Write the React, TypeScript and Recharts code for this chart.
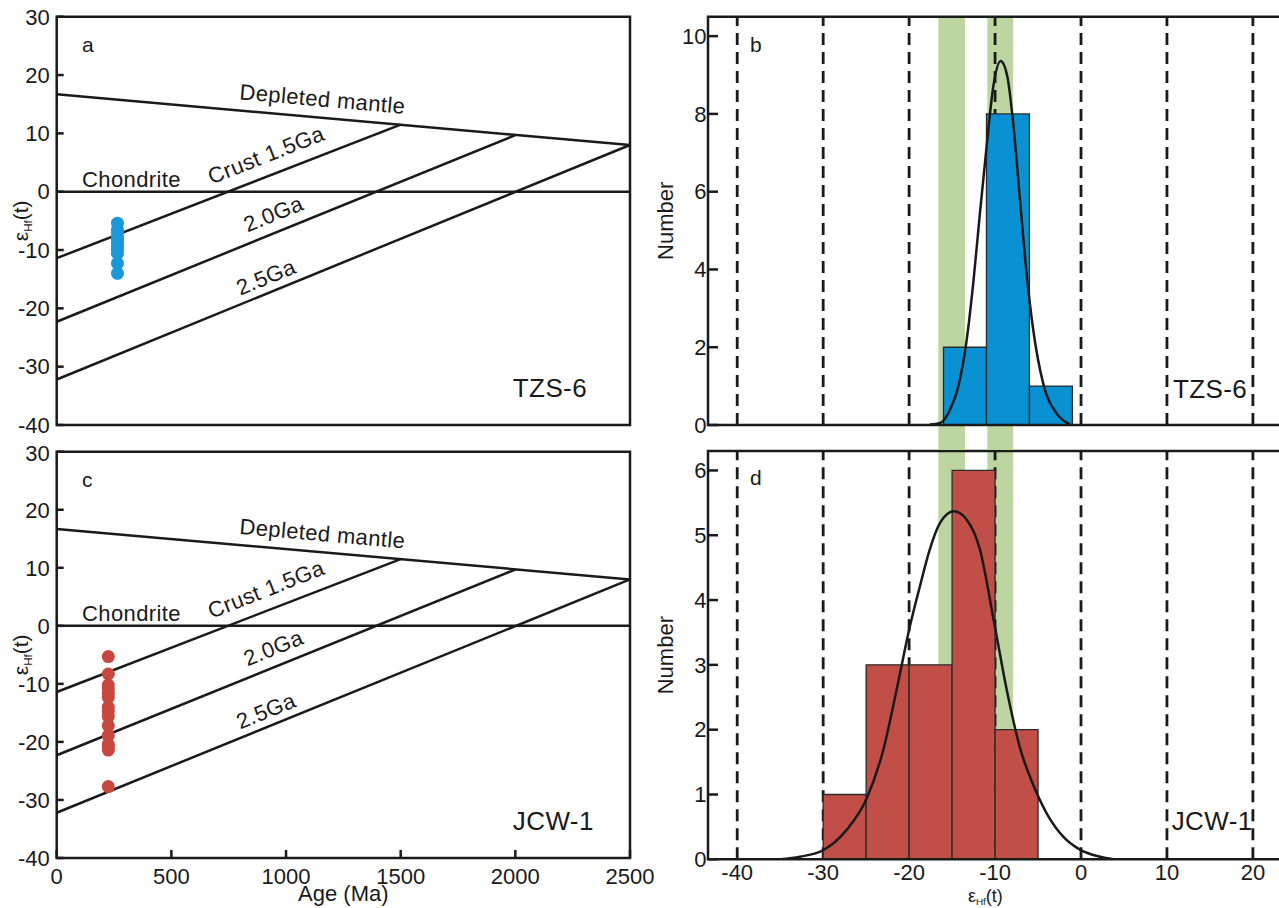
import React from 'react';
import { ComposedChart, Line, Scatter, XAxis, YAxis, ReferenceArea, ReferenceLine, ReferenceDot } from 'recharts';

const FONT = '"Liberation Sans", Arial, Helvetica, sans-serif';
const INK = '#1a1a1a';

// Hf evolution lines (age in Ma, εHf)
const depletedMantle = [{ x: 0, y: 16.7 }, { x: 2500, y: 8.0 }];
const chondrite = [{ x: 0, y: 0 }, { x: 2500, y: 0 }];
const crust15 = [{ x: 0, y: -11.4 }, { x: 1500, y: 11.5 }];
const crust20 = [{ x: 0, y: -22.3 }, { x: 2000, y: 9.7 }];
const crust25 = [{ x: 0, y: -32.2 }, { x: 2500, y: 8.0 }];

const ageTicks = [0, 500, 1000, 1500, 2000, 2500];
const hfTicks = [-40, -30, -20, -10, 0, 10, 20, 30];

// zircon analyses
const tzsAge = 265;
const tzsHf = [-5.4, -6.6, -7.0, -7.8, -8.3, -8.9, -9.4, -10.0, -10.6, -12.3, -14.0];
const jcwAge = 225;
const jcwHf = [-5.3, -8.3, -10.2, -10.9, -11.6, -12.3, -14.0, -14.7, -15.6, -17.2, -18.9, -20.4, -20.9, -21.4, -27.7];

// histograms (bin edges + counts)
const tzsEdges = [-16, -11, -6, -1];
const tzsCounts = [2, 8, 1];
const jcwEdges = [-30, -25, -20, -15, -10, -5];
const jcwCounts = [1, 3, 3, 6, 2];

// fitted curves
const tzsCurve = [
  { x: -17.6, y: 0.01 }, { x: -16.4, y: 0.05 }, { x: -15.25, y: 0.39 }, { x: -14.1, y: 1.16 },
  { x: -13.3, y: 2.19 }, { x: -12.5, y: 3.73 }, { x: -11.76, y: 5.45 }, { x: -10.98, y: 7.17 },
  { x: -10.2, y: 8.71 }, { x: -9.35, y: 9.36 }, { x: -8.58, y: 8.97 }, { x: -7.89, y: 7.77 },
  { x: -7.1, y: 5.79 }, { x: -6.33, y: 3.9 }, { x: -5.56, y: 2.45 }, { x: -4.4, y: 1.07 },
  { x: -2.84, y: 0.3 }, { x: -1.3, y: 0.02 },
];
const jcwCurve = [
  { x: -35, y: 0 }, { x: -32.7, y: 0.04 }, { x: -30, y: 0.14 }, { x: -27.3, y: 0.45 },
  { x: -24.9, y: 0.95 }, { x: -23, y: 1.69 }, { x: -21.45, y: 2.62 }, { x: -19.9, y: 3.6 },
  { x: -18.75, y: 4.21 }, { x: -17.6, y: 4.78 }, { x: -16.4, y: 5.19 }, { x: -14.8, y: 5.37 },
  { x: -13.3, y: 5.24 }, { x: -11.76, y: 4.78 }, { x: -10.2, y: 3.72 }, { x: -8.65, y: 2.62 },
  { x: -7.1, y: 1.72 }, { x: -5.56, y: 1.15 }, { x: -4, y: 0.71 }, { x: -2.07, y: 0.35 },
  { x: -0.13, y: 0.15 }, { x: 2.2, y: 0.04 }, { x: 3.75, y: 0 },
];

const greenBands = [[-16.6, -13.5], [-10.9, -7.9]];
const dashTicks = [-40, -30, -20, -10, 0, 10, 20];
const tzsCountTicks = [0, 2, 4, 6, 8, 10];
const jcwCountTicks = [0, 1, 2, 3, 4, 5, 6];

const tickFont = { fontSize: 22, fill: INK, fontFamily: FONT };

function EpsText({ x, y, size, rotate, sub = 0.2 }: { x: number; y: number; size: number; rotate?: boolean; sub?: number }) {
  return (
    <text
      transform={`translate(${x},${y})${rotate ? ' rotate(-90)' : ''}`}
      textAnchor="middle"
      fontFamily={FONT}
      fontSize={size}
      fill={INK}
    >
      <tspan>ε</tspan>
      <tspan fontSize={size * 0.55} dy={size * sub}>Hf</tspan>
      <tspan dy={-size * sub}>(t)</tspan>
    </text>
  );
}

// text anchored at a data point
function note(key: string, x: number, y: number, text: string, size = 22, angle = 0, anchor = 'start') {
  return (
    <ReferenceDot
      key={key}
      x={x}
      y={y}
      r={0}
      fill="none"
      stroke="none"
      ifOverflow="visible"
      label={{
        content: (p: any) => (
          <text
            transform={`translate(${p.viewBox.x},${p.viewBox.y}) rotate(${angle})`}
            textAnchor={anchor}
            fontFamily={FONT}
            fontSize={size}
            fill={INK}
            letterSpacing={0.4}
          >
            {text}
          </text>
        ),
      }}
    />
  );
}

function EvolutionPanel({ letter, sample, age, hf, color, bottom }: {
  letter: string; sample: string; age: number; hf: number[]; color: string; bottom?: boolean;
}) {
  const points = hf.map((y) => ({ x: age, y }));
  const lines = [depletedMantle, chondrite, crust15, crust20, crust25];
  return (
    <ComposedChart
      width={680}
      height={bottom ? 468 : 440}
      margin={{ top: bottom ? 11.7 : 16.7, right: 50, bottom: 0, left: 0 }}
    >
      <XAxis
        type="number"
        dataKey="x"
        domain={[0, 2500]}
        ticks={ageTicks}
        axisLine={false}
        tickLine={{ stroke: INK, strokeWidth: 2.5 }}
        tickSize={-8}
        tickMargin={18}
        tick={bottom ? tickFont : false}
        height={bottom ? 50 : 15}
        label={bottom ? {
          content: (p: any) => (
            <text x={p.viewBox.x + p.viewBox.width / 2} y={p.viewBox.y + 43} textAnchor="middle"
              fontFamily={FONT} fontSize={22} fill={INK}>Age (Ma)</text>
          ),
        } : undefined}
      />
      <YAxis
        type="number"
        dataKey="y"
        domain={[-40, 30]}
        ticks={hfTicks}
        width={56.7}
        axisLine={false}
        tickLine={{ stroke: INK, strokeWidth: 2.5 }}
        tickSize={-7}
        tickMargin={14}
        tick={tickFont}
        label={{
          content: (p: any) => (
            <EpsText x={p.viewBox.x + 28} y={p.viewBox.y + p.viewBox.height / 2} size={21} rotate />
          ),
        }}
      />
      {lines.map((d, i) => (
        <Line key={'l' + i} data={d} dataKey="y" type="linear" stroke={INK} strokeWidth={2.5}
          dot={false} isAnimationActive={false} />
      ))}
      <Scatter
        data={points}
        fill={color}
        isAnimationActive={false}
        shape={(p: any) => <circle cx={p.cx} cy={p.cy} r={6.5} fill={color} />}
      />
      <ReferenceArea x1={0} x2={2500} y1={-40} y2={30} fill="none" stroke={INK} strokeWidth={2.5} ifOverflow="visible" />
      {note('letter', 110, 23.9, letter, 21)}
      {note('chon', 326, 0.8, 'Chondrite', 22, 0, 'middle')}
      {note('dm', 1156, 14.6, 'Depleted mantle', 22, 5.1, 'middle')}
      {note('c15', 925, 5.1, 'Crust 1.5Ga', 22, -21.5, 'middle')}
      {note('c20', 957, -5.0, '2.0Ga', 22, -22.2, 'middle')}
      {note('c25', 925, -15.85, '2.5Ga', 22, -22.2, 'middle')}
      {note('sample', 1989, -35.2, sample, 26)}
    </ComposedChart>
  );
}

function HistPanel({ letter, sample, edges, counts, curve, color, yMax, yTicks, bottom }: {
  letter: string; sample: string; edges: number[]; counts: number[]; curve: { x: number; y: number }[];
  color: string; yMax: number; yTicks: number[]; bottom?: boolean;
}) {
  return (
    <ComposedChart
      width={680}
      height={bottom ? 468 : 452}
      margin={{ top: bottom ? 11 : 16.7, right: 15.3, bottom: 0, left: 0 }}
    >
      <XAxis
        type="number"
        dataKey="x"
        domain={[-43.4, 23.7]}
        allowDataOverflow
        ticks={dashTicks}
        axisLine={false}
        tickLine={false}
        tickSize={0}
        tickMargin={5}
        tick={bottom ? tickFont : false}
        height={bottom ? 48.7 : 27}
        label={bottom ? {
          content: (p: any) => (
            <EpsText x={p.viewBox.x + p.viewBox.width / 2 - 11} y={p.viewBox.y + 42.5} size={18} sub={0.15} />
          ),
        } : undefined}
      />
      <YAxis
        type="number"
        domain={[0, yMax]}
        allowDataOverflow
        ticks={yTicks}
        width={88}
        axisLine={false}
        tickLine={{ stroke: INK, strokeWidth: 2.5 }}
        tickSize={-10}
        tickMargin={11.5}
        tick={tickFont}
        label={{
          content: (p: any) => (
            <text transform={`translate(${p.viewBox.x + 53},${p.viewBox.y + p.viewBox.height / 2}) rotate(-90)`}
              textAnchor="middle" fontFamily={FONT} fontSize={22} fill={INK}>Number</text>
          ),
        }}
      />
      {greenBands.map(([a, b], i) => (
        <ReferenceArea key={'g' + i} x1={a} x2={b} y1={bottom ? 0 : -0.64} y2={yMax} zIndex={10}
          fill="#bcd5a1" fillOpacity={1} stroke="none" ifOverflow="visible" />
      ))}
      {dashTicks.map((t) => (
        <ReferenceLine key={'d' + t} x={t} stroke={INK} strokeWidth={2.8} strokeDasharray="12 7" zIndex={20} />
      ))}
      {counts.map((c, i) => (
        <ReferenceArea key={'h' + i} x1={edges[i]} x2={edges[i + 1]} y1={0} y2={c} zIndex={30}
          fill={color} fillOpacity={1} stroke="#2a2a2a" strokeWidth={1.3} ifOverflow="visible" />
      ))}
      <Line data={curve} dataKey="y" type="monotone" stroke={INK} strokeWidth={2.5} zIndex={40}
        dot={false} isAnimationActive={false} />
      <ReferenceArea x1={-43.4} x2={23.7} y1={0} y2={yMax} fill="none" stroke={INK} strokeWidth={2.5}
        ifOverflow="visible" zIndex={50} />
      {note('letter', -38.5, bottom ? 5.78 : 9.6, letter, 21)}
      {note('sample', bottom ? 10.55 : 10.7, bottom ? 0.45 : 0.7, sample, 26)}
    </ComposedChart>
  );
}

export default function App() {
  return (
    <div style={{ position: 'absolute', left: 0, top: 0, width: 1279, height: 908, overflow: 'hidden', background: '#fff' }}>
      <div style={{ position: 'absolute', left: 0, top: 0 }}>
        <EvolutionPanel letter="a" sample="TZS-6" age={tzsAge} hf={tzsHf} color="#1898d8" />
      </div>
      <div style={{ position: 'absolute', left: 0, top: 440 }}>
        <EvolutionPanel letter="c" sample="JCW-1" age={jcwAge} hf={jcwHf} color="#c8483f" bottom />
      </div>
      <div style={{ position: 'absolute', left: 620, top: 440 }}>
        <HistPanel letter="d" sample="JCW-1" edges={jcwEdges} counts={jcwCounts} curve={jcwCurve}
          color="#c14f48" yMax={6.3} yTicks={jcwCountTicks} bottom />
      </div>
      <div style={{ position: 'absolute', left: 620, top: 0 }}>
        <HistPanel letter="b" sample="TZS-6" edges={tzsEdges} counts={tzsCounts} curve={tzsCurve}
          color="#0a91d3" yMax={10.5} yTicks={tzsCountTicks} />
      </div>
    </div>
  );
}
